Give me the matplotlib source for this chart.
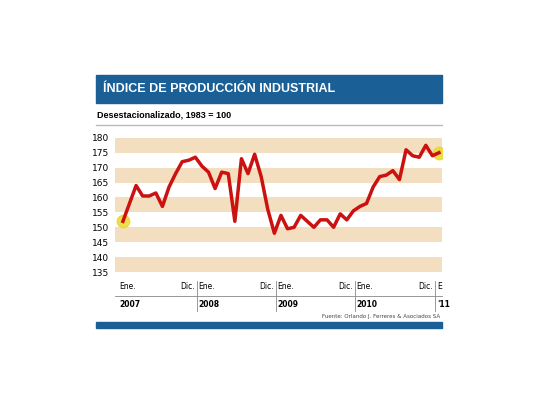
import matplotlib.pyplot as plt
from matplotlib.patches import Rectangle

values = [152, 158, 164, 160.5, 160.5, 161.5, 157, 163.5, 168, 172, 172.5, 173.5,
          170.5, 168.5, 163, 168.5, 168, 152, 173, 168, 174.5, 167, 156, 148,
          154, 149.5, 150, 154, 152, 150, 152.5, 152.5, 150, 154.5, 152.5, 155.5,
          157, 158, 163.5, 167, 167.5, 169, 166, 176, 174, 173.5, 177.5, 174, 175]
yticks = list(range(135, 181, 5))
years = ["2007", "2008", "2009", "2010", "'11"]

fig = plt.figure(figsize=(5.4, 4.05), dpi=100)
fig.patch.set_facecolor("white")

# banner
fig.patches.append(Rectangle((0.178, 0.745), 0.64, 0.07, transform=fig.transFigure,
                             color="#1a5f96", zorder=0))
fig.text(0.19, 0.78, "ÍNDICE DE PRODUCCIÓN INDUSTRIAL", color="white",
         fontsize=9, fontweight="bold", va="center", family="Liberation Sans")
fig.text(0.18, 0.715, "Desestacionalizado, 1983 = 100", fontsize=6.5,
         fontweight="bold", va="center", family="Liberation Sans")
fig.lines.append(plt.Line2D([0.178, 0.818], [0.692, 0.692], transform=fig.transFigure,
                            color="#bbbbbb", lw=1))
fig.patches.append(Rectangle((0.178, 0.19), 0.64, 0.015, transform=fig.transFigure,
                             color="#1a5f96"))
fig.text(0.815, 0.218, "Fuente: Orlando J. Ferreres & Asociados SA", fontsize=4,
         ha="right", va="center", color="#444444")

ax = fig.add_axes([0.213, 0.321, 0.606, 0.346])
n = len(values)
ax.set_xlim(-1.2, n - 1 + 0.5)
ax.set_ylim(134, 181)
for lo in range(135, 180, 10):
    ax.axhspan(lo, lo + 5, color="#f3dfbf", lw=0, zorder=0)
ax.plot(range(n), values, color="#cc1111", lw=2.5, zorder=3)
for i in (0, n - 1):
    ax.plot(i, values[i], "o", ms=9, color="#e8d820", alpha=0.8, zorder=2)
ax.set_yticks(yticks)
ax.tick_params(axis="y", length=0, labelsize=6.5, pad=4)
ax.set_xticks([])
for s in ax.spines.values():
    s.set_visible(False)

# bottom axis labels
for k in range(4):
    x0 = 12 * k
    ax.text(x0 - 0.5, 131.5, "Ene.", fontsize=5.5, va="top")
    ax.text(x0 + 11, 131.5, "Dic.", fontsize=5.5, va="top", ha="right")
    ax.text(x0 - 0.5, 125.5, years[k], fontsize=5.5, fontweight="bold", va="top")
    if k > 0:
        ax.plot([x0 - 0.7, x0 - 0.7], [122, 132], color="#888888", lw=0.6, clip_on=False)
ax.plot([47.4, 47.4], [122, 132], color="#888888", lw=0.6, clip_on=False)
ax.text(47.8, 131.5, "E", fontsize=5.5, va="top")
ax.text(47.8, 125.5, years[4], fontsize=5.5, fontweight="bold", va="top")
ax.plot([-1.2, 48.5], [126.8, 126.8], color="#888888", lw=0.6, clip_on=False)

fig.savefig("out.png", dpi=100)
